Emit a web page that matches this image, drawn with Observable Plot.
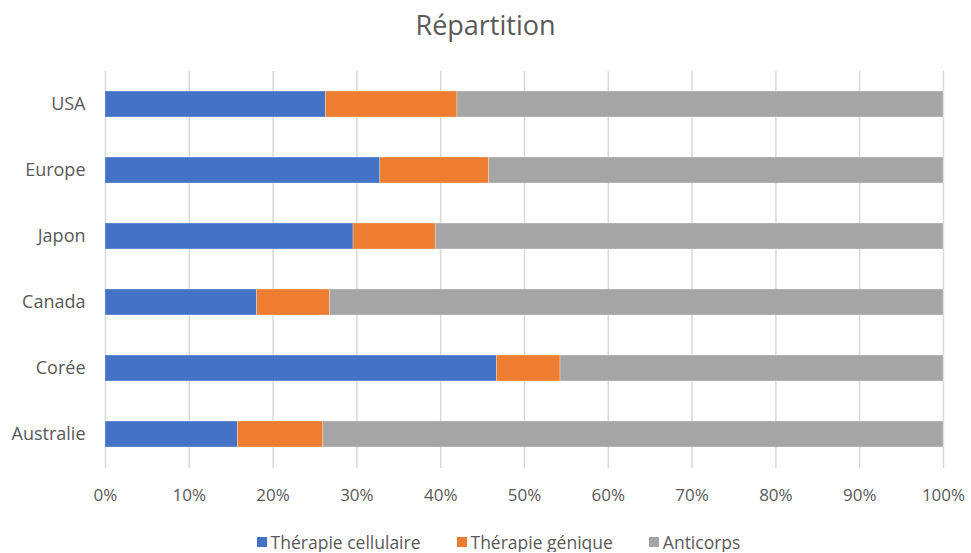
<!DOCTYPE html>
<html>
<head>
<meta charset="utf-8">
<script src="https://cdn.jsdelivr.net/npm/d3@7"></script>
<script src="https://cdn.jsdelivr.net/npm/@observablehq/plot@0.6"></script>
<style>
  html, body { margin: 0; background: #fff; font-family: "Open Sans", Lato, sans-serif; overflow: hidden; }
  #title { height: 50px; line-height: 50px; text-align: center; font-size: 27px; color: #595959; }
  #chart { height: 470px; }
  #chart svg { display: block; }
  #legend { display: flex; justify-content: center; gap: 36px; font-size: 17.5px; line-height: 20px; height: 20px; color: #595959; margin-top: 12px; padding-left: 26px; }
  #legend span.sw { display: inline-block; width: 10px; height: 10px; margin-right: 4px; }
  #legend div { display: flex; align-items: center; }
</style>
</head>
<body>
<div id="title">Répartition</div>
<div id="chart"></div>
<div id="legend"></div>
<script>
const categories = ["USA", "Europe", "Japon", "Canada", "Corée", "Australie"];
const seriesNames = ["Thérapie cellulaire", "Thérapie génique", "Anticorps"];
const seriesColors = ["#4472c4", "#ed7d31", "#a5a5a5"];
const cellulaire = [26.3, 32.8, 29.6, 18.1, 46.7, 15.8];
const genique = [15.7, 13.0, 9.8, 8.7, 7.6, 10.2];
const anticorps = [58.0, 54.2, 60.6, 73.2, 45.7, 74.0];
const xTicks = [0, 10, 20, 30, 40, 50, 60, 70, 80, 90, 100];

const seriesValues = [cellulaire, genique, anticorps];
const data = [];
seriesNames.forEach((s, si) => {
  categories.forEach((c, ci) => data.push({ pays: c, serie: s, value: seriesValues[si][ci] }));
});

const chart = Plot.plot({
  width: 971,
  height: 470,
  marginTop: 21,
  marginBottom: 52,
  marginLeft: 105,
  marginRight: 28,
  style: { fontFamily: '"Open Sans", Lato, sans-serif', fontSize: "17px", color: "#595959", background: "#fff" },
  x: { domain: [0, 100], ticks: xTicks, tickFormat: d => d + "%", tickSize: 0, tickPadding: 20, label: null },
  y: { domain: categories, paddingInner: 0.6, paddingOuter: 0.3, tickSize: 0, tickPadding: 20, label: null },
  color: { domain: seriesNames, range: seriesColors },
  marks: [
    Plot.ruleX(xTicks, { stroke: "#d9d9d9", strokeWidth: 1.5 }),
    Plot.barX(data, { y: "pays", x: "value", fill: "serie", order: seriesNames, stroke: "#fff", strokeWidth: 0.5, strokeOpacity: 0.6 }),
    Plot.axisY({ tickSize: 0, tickPadding: 20, fontSize: 18, label: null })
  ]
});
document.getElementById("chart").appendChild(chart);

const legend = document.getElementById("legend");
seriesNames.forEach((s, i) => {
  const d = document.createElement("div");
  d.innerHTML = `<span class="sw" style="background:${seriesColors[i]}"></span>${s}`;
  legend.appendChild(d);
});
</script>
</body>
</html>
